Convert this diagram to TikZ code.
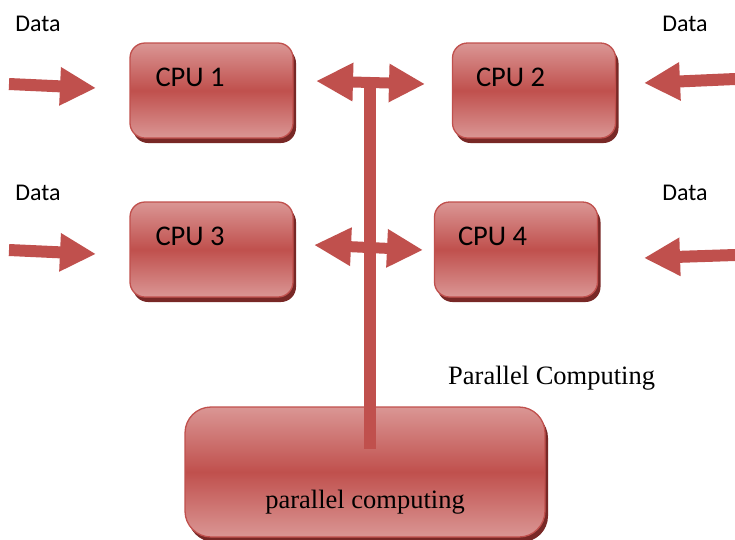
\documentclass[tikz,border=0pt]{standalone}
\usepackage{fontspec}
\setmainfont{Liberation Serif}
\newfontfamily\calibrifont{Carlito}
\usetikzlibrary{arrows.meta,shadows}

\definecolor{boxlight}{RGB}{218,150,148}
\definecolor{boxdark}{RGB}{192,80,77}
\definecolor{boxline}{RGB}{192,80,77}
\definecolor{boxshade}{RGB}{120,40,38}
\definecolor{arrowred}{RGB}{192,80,77}

\tikzset{
  cpubox/.style={rectangle, rounded corners=15pt, draw=boxline, line width=1.3pt,
    top color=boxlight, bottom color=boxlight, middle color=boxdark,
    minimum width=163pt, minimum height=95pt, inner sep=0pt,
    drop shadow={shadow xshift=3pt, shadow yshift=-5pt, fill=boxshade, opacity=1}},
  bigbox/.style={cpubox, rounded corners=26pt, minimum width=360pt, minimum height=130pt},
  cputext/.style={anchor=west, font=\calibrifont\fontsize{28.5}{32}\selectfont, inner sep=0pt},
  datatext/.style={font=\calibrifont\fontsize{24}{28}\selectfont, inner sep=0pt},
  seriftext/.style={font=\fontsize{26.5}{31}\selectfont, inner sep=0pt},
  fatarrow/.style={draw=arrowred, fill=arrowred, line width=12pt,
    -{Triangle[width=36pt,length=36pt]}},
  twoway/.style={draw=arrowred, fill=arrowred, line width=11pt,
    {Triangle[width=36pt,length=37pt]}-{Triangle[width=36pt,length=36pt]}},
  stem/.style={draw=arrowred, line width=12pt}
}

\begin{document}
\begin{tikzpicture}[x=1pt, y=-1pt]
  \useasboundingbox (0,0) rectangle (735,539);

  % processor boxes
  \node[cpubox] (cpu1) at (211.5,90.5) {};
  \node[cpubox] (cpu2) at (534,90.5) {};
  \node[cpubox] (cpu3) at (211.5,249.5) {};
  \node[cpubox] (cpu4) at (516,249.5) {};
  \node[bigbox] (pc) at (365,472) {};

  % box captions
  \node[cputext] (t1) at ([xshift=26pt,yshift=-35pt]cpu1.north west) {CPU 1};
  \node[cputext] (t2) at ([xshift=24pt,yshift=-35pt]cpu2.north west) {CPU 2};
  \node[cputext] (t3) at ([xshift=26pt,yshift=-35pt]cpu3.north west) {CPU 3};
  \node[cputext] (t4) at ([xshift=24pt,yshift=-35pt]cpu4.north west) {CPU 4};
  \node[seriftext] (tpc) at ([yshift=-30pt]pc.center) {parallel computing};
  \node[seriftext, anchor=base west] (title) at (448,384) {Parallel Computing};

  % input labels
  \node[datatext] (d1) at (38,24) {Data};
  \node[datatext] (d2) at (685,24) {Data};
  \node[datatext] (d3) at (38,193) {Data};
  \node[datatext] (d4) at (685,193) {Data};

  % arrow end points
  \coordinate (in1s) at (9,84);    \coordinate (in1e) at (96,88);
  \coordinate (in2s) at (735,79);  \coordinate (in2e) at (644,83);
  \coordinate (in3s) at (9,250);   \coordinate (in3e) at (96,254);
  \coordinate (in4s) at (735,255); \coordinate (in4e) at (644,258);
  \coordinate (b1l) at (316,81);   \coordinate (b1r) at (425,84);
  \coordinate (b2l) at (314,245);  \coordinate (b2r) at (423,250);
  \coordinate (stemtop) at (370,82);
  \coordinate (stembot) at (370,449);

  % shared bus
  \draw[stem] (stemtop) -- (stembot);
  \draw[twoway] (b1l) -- (b1r);
  \draw[twoway] (b2l) -- (b2r);

  % data inputs
  \draw[fatarrow] (in1s) -- (in1e);
  \draw[fatarrow] (in2s) -- (in2e);
  \draw[fatarrow] (in3s) -- (in3e);
  \draw[fatarrow] (in4s) -- (in4e);
\end{tikzpicture}
\end{document}
